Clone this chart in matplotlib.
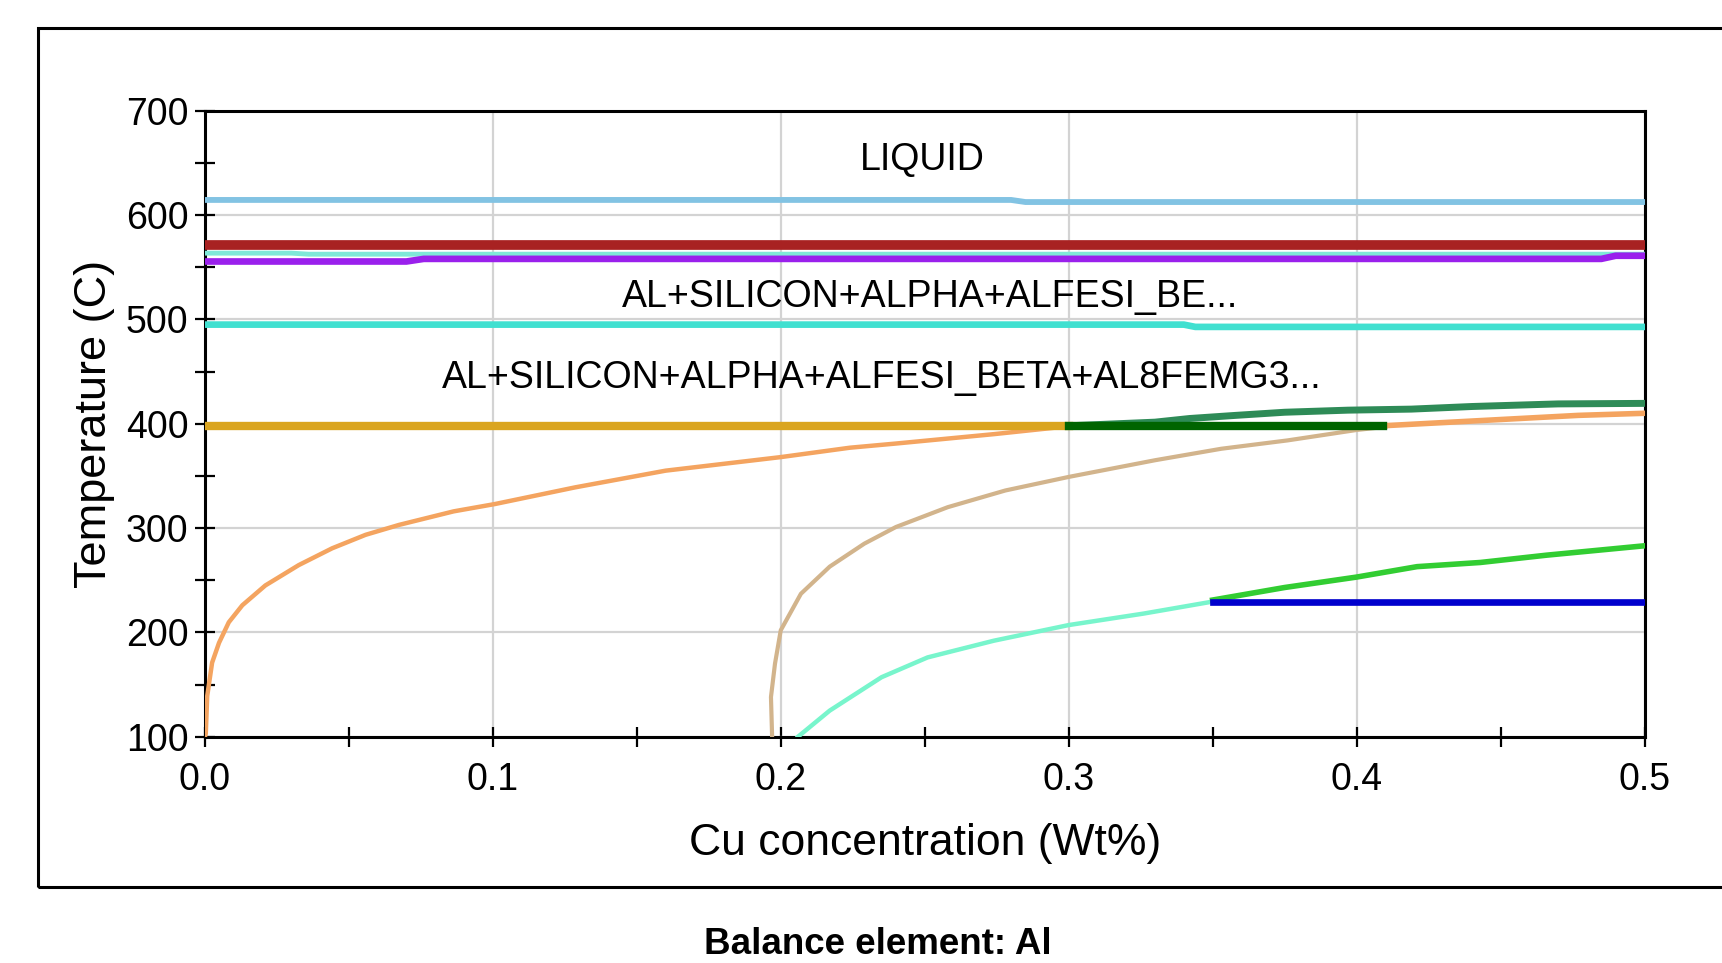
import matplotlib
matplotlib.use("Agg")
import matplotlib.pyplot as plt
from matplotlib.patches import Rectangle

plt.rcParams['font.family'] = ['Liberation Sans', 'DejaVu Sans']

# horizontal phase boundaries (Cu wt%, temperature C)
liquid_x = [0.0, 0.280, 0.285, 0.5]
liquid_t = [614.5, 614.5, 612.5, 612.5]

red_x = [0.0, 0.5]
red_t = [571.5, 571.5]

aqua_top_x = [0.0, 0.030, 0.036, 0.5]
aqua_top_t = [563.5, 563.5, 562.5, 562.5]

purple_x = [0.0, 0.070, 0.076, 0.485, 0.490, 0.5]
purple_t = [555.5, 555.5, 558.0, 558.0, 561.0, 561.0]

turq_x = [0.0, 0.340, 0.344, 0.5]
turq_t = [495.0, 495.0, 492.8, 492.8]

gold_x = [0.0, 0.300]
gold_t = [397.5, 397.5]

dkgreen_x = [0.300, 0.409]
dkgreen_t = [397.5, 397.5]

blue_x = [0.350, 0.5]
blue_t = [229.5, 229.5]

# curved / rising boundaries
seagreen_x = [0.300, 0.330, 0.342, 0.358, 0.375, 0.397, 0.419, 0.440, 0.470, 0.5]
seagreen_t = [398, 401.5, 405, 408, 411, 413, 414, 416.5, 419, 419.5]

orange_x = [0.0, 0.0003, 0.0008, 0.0025, 0.0049, 0.0083, 0.013, 0.021, 0.0326,
            0.0442, 0.0558, 0.0674, 0.0864, 0.1007, 0.1286, 0.16, 0.2, 0.224,
            0.24, 0.274, 0.298]
orange_t = [100, 103, 139, 171, 190, 209.7, 226, 245, 264.5,
            280.6, 293.5, 303, 316, 323, 339, 355, 368, 377,
            381, 390, 397]

orange2_x = [0.409, 0.443, 0.477, 0.5]
orange2_t = [398, 403, 408, 410]

tan_x = [0.197, 0.1966, 0.198, 0.2, 0.207, 0.217, 0.229, 0.24, 0.258, 0.278,
         0.3, 0.33, 0.353, 0.376, 0.4, 0.41]
tan_t = [100, 138, 170, 202, 237, 263, 285, 301, 320, 336,
         349, 365, 376, 384, 394, 397]

aqua_x = [0.206, 0.217, 0.235, 0.251, 0.274, 0.3, 0.326, 0.35]
aqua_t = [100, 125, 157, 176, 192, 207, 218, 229.5]

lime_x = [0.35, 0.375, 0.4, 0.421, 0.443, 0.466, 0.5]
lime_t = [231, 243, 253, 263, 267, 274, 283]

labels = ["LIQUID", "AL+SILICON+ALPHA+ALFESI_BE...",
          "AL+SILICON+ALPHA+ALFESI_BETA+AL8FEMG3..."]
label_x = [0.249, 0.252, 0.235]
label_t = [653, 521, 444]

fig = plt.figure(figsize=(17.22, 9.63), dpi=100)
ax = fig.add_axes([0.119, 0.235, 0.836, 0.650])

# curves
ax.plot(orange_x, orange_t, color='#f4a460', lw=3.2, zorder=3)
ax.plot(tan_x, tan_t, color='#d2b48c', lw=3.0, zorder=3)
ax.plot(aqua_x, aqua_t, color='#78f5cc', lw=3.2, zorder=3)
ax.plot(lime_x, lime_t, color='#32cd32', lw=4.0, zorder=3)
ax.plot(seagreen_x, seagreen_t, color='#2e8b57', lw=5.0, zorder=3)
ax.plot(orange2_x, orange2_t, color='#f4a460', lw=4.0, zorder=3)

# horizontal lines
ax.plot(liquid_x, liquid_t, color='#82c3e3', lw=4.2, zorder=4)
ax.plot(aqua_top_x, aqua_top_t, color='#7fe8d8', lw=3.5, zorder=4)
ax.plot(purple_x, purple_t, color='#9a20ec', lw=4.8, zorder=4)
ax.plot(red_x, red_t, color='#a82222', lw=7.0, zorder=4)
ax.plot(turq_x, turq_t, color='#40e0d0', lw=4.8, zorder=4)
ax.plot(gold_x, gold_t, color='#daa520', lw=6.0, zorder=4)
ax.plot(dkgreen_x, dkgreen_t, color='#006400', lw=6.0, zorder=4)
ax.plot(blue_x, blue_t, color='#0000cd', lw=4.8, zorder=4)

for txt, x, t in zip(labels, label_x, label_t):
    ax.text(x, t, txt, fontsize=27, ha='center', va='center', zorder=5)

ax.set_xlim(0, 0.5)
ax.set_ylim(100, 700)
ax.set_xticks([0.0, 0.1, 0.2, 0.3, 0.4, 0.5])
ax.set_xticklabels(['0.0', '0.1', '0.2', '0.3', '0.4', '0.5'])
ax.set_xticks([0.05, 0.15, 0.25, 0.35, 0.45], minor=True)
ax.set_yticks([100, 200, 300, 400, 500, 600, 700])
ax.set_yticks([150, 250, 350, 450, 550, 650], minor=True)
ax.tick_params(which='both', direction='inout', length=14, width=1.6,
               labelsize=27)
ax.tick_params(axis='x', pad=11)
ax.tick_params(axis='y', pad=5)
ax.grid(True, which='major', color='#d3d3d3', lw=1.6, zorder=0)
for s in ax.spines.values():
    s.set_linewidth(2.2)

ax.set_xlabel('Cu concentration (Wt%)', fontsize=32, labelpad=18)
ax.set_ylabel('Temperature (C)', fontsize=32.5, labelpad=8)

fig.patches.append(Rectangle((0.022, 0.079), 1.0, 0.892, transform=fig.transFigure,
                             fill=False, edgecolor='black', lw=2.2))
fig.text(0.51, 0.019, 'Balance element: Al', fontsize=26.5, fontweight='bold',
         ha='center', va='center')

fig.savefig('out.png', dpi=100)
